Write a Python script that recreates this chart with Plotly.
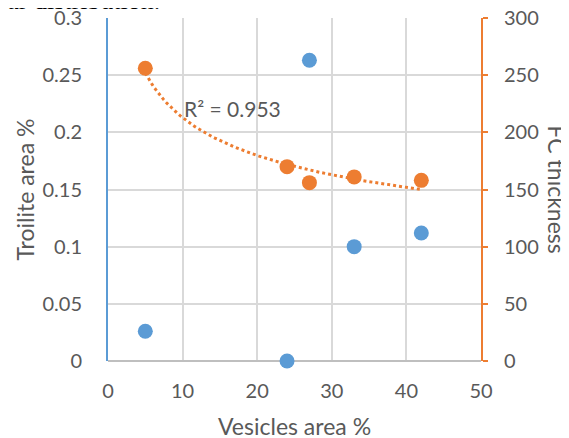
import numpy as np
import plotly.graph_objects as go

# Data
vesicles_area = [5, 24, 27, 33, 42]
troilite_area = [0.026, 0.0, 0.263, 0.100, 0.112]
fc_thickness = [256, 170, 156, 161, 158]
x_ticks = [0, 10, 20, 30, 40, 50]
left_ticks = [0, 0.05, 0.1, 0.15, 0.2, 0.25, 0.3]
left_tick_labels = ["0", "0.05", "0.1", "0.15", "0.2", "0.25", "0.3"]
right_ticks = [0, 50, 100, 150, 200, 250, 300]
r2_label = "R² = 0.953"

BLUE = "#5B9BD5"
ORANGE = "#ED7D31"
GRID = "#D9D9D9"
TXT = "#595959"
FONT = "Lato"

# Power trendline fitted to FC thickness
lx = np.log(np.array(vesicles_area, dtype=float))
ly = np.log(np.array(fc_thickness, dtype=float))
b, a = np.polyfit(lx, ly, 1)
xt = np.linspace(min(vesicles_area), max(vesicles_area), 120)
yt = np.exp(a) * xt ** b

fig = go.Figure()
fig.add_trace(go.Scatter(x=xt, y=yt, mode="lines", yaxis="y2",
                         line=dict(color=ORANGE, width=3, dash="dot"),
                         hoverinfo="skip", showlegend=False))
fig.add_trace(go.Scatter(x=vesicles_area, y=fc_thickness, mode="markers", yaxis="y2",
                         marker=dict(color=ORANGE, size=15), name="FC thickness",
                         showlegend=False))
fig.add_trace(go.Scatter(x=vesicles_area, y=troilite_area, mode="markers",
                         marker=dict(color=BLUE, size=15), name="Troilite area %",
                         showlegend=False, cliponaxis=False))

fig.update_layout(
    width=561, height=430,
    margin=dict(l=100, r=88, t=10, b=77, autoexpand=False),
    paper_bgcolor="white", plot_bgcolor="white",
    font=dict(family=FONT, color=TXT, size=20),
    xaxis=dict(range=[0, 50], tickvals=x_ticks, showgrid=True, gridcolor=GRID, gridwidth=1.5,
               zeroline=False, showline=False, ticks="", ticklabelstandoff=16, automargin=False,
               ticklabeloverflow="allow", tickfont=dict(size=20, color=TXT)),
    yaxis=dict(range=[0, 0.3], tickvals=left_ticks, ticktext=left_tick_labels, automargin=False,
               showgrid=True, gridcolor=GRID, gridwidth=1.5, zeroline=True, zerolinecolor="#BFBFBF",
               zerolinewidth=1.5, showline=True, linecolor=BLUE, linewidth=2, ticks="",
               ticklabeloverflow="allow", ticklabelstandoff=20, tickfont=dict(size=20, color=TXT)),
    yaxis2=dict(range=[0, 300], tickvals=right_ticks, overlaying="y", side="right", automargin=False,
                showgrid=False, zeroline=False, showline=True, linecolor=ORANGE, linewidth=2,
                ticks="outside", ticklen=5, tickwidth=2, tickcolor=ORANGE,
                ticklabeloverflow="allow", ticklabelstandoff=12, tickfont=dict(size=20, color=TXT)),
    annotations=[
        dict(text=r2_label, x=9.9, y=221, xref="x", yref="y2", xanchor="left", yanchor="middle",
             showarrow=False, font=dict(size=21, color=TXT, family=FONT)),
        dict(text="Vesicles area %", x=0.5, xref="paper", y=0, yref="paper", yshift=-65,
             xanchor="center", yanchor="middle", showarrow=False,
             font=dict(size=23, color=TXT, family=FONT)),
        dict(text="Troilite area %", x=0, xref="paper", y=0.5, yref="paper", xshift=-84,
             xanchor="center", yanchor="middle", textangle=-90, showarrow=False,
             font=dict(size=23, color=TXT, family=FONT)),
        dict(text="FC thickness", x=1, xref="paper", y=0.5, yref="paper", xshift=76,
             xanchor="center", yanchor="middle", textangle=90, showarrow=False,
             font=dict(size=23, color=TXT, family=FONT)),
        dict(text="lar distribution.", x=0, xref="paper", xshift=54, xanchor="right",
             y=1, yref="paper", yanchor="bottom", yshift=1, showarrow=False,
             font=dict(size=26, color="black", family="Liberation Serif")),
    ],
)

fig.write_html("out.html")
